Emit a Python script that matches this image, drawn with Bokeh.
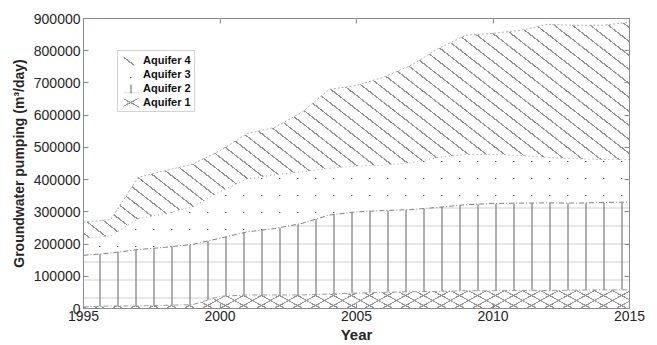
import zlib, struct, base64
from bokeh.plotting import figure
from bokeh.models import (ColumnDataSource, Range1d, LinearAxis, FixedTicker, Legend,
                          LegendItem, ImageURLTexture)
from bokeh.core.properties import value
from bokeh.transform import stack
from bokeh.embed import file_html
from bokeh.resources import INLINE

# ---------------- data ----------------
years = list(range(1995, 2016))
aquifer1 = [5000, 8000, 8000, 10000, 12000, 38000, 42000, 42000, 42000, 45000, 48000,
            50000, 52000, 53000, 55000, 55000, 56000, 56000, 57000, 58000, 58000]
aquifer2 = [160000, 164000, 175000, 180000, 187000, 180000, 196000, 206000, 222000, 245000, 252000,
            254000, 255000, 261000, 267000, 271000, 271000, 272000, 270000, 271000, 272000]
aquifer3 = [53000, 53000, 96000, 104000, 116000, 145000, 164000, 167000, 160000, 145000, 142000,
            141000, 145000, 155000, 156000, 152000, 148000, 141000, 138000, 133000, 132000]
aquifer4 = [50000, 51000, 128000, 134000, 133000, 127000, 141000, 147000, 185000, 245000, 250000,
            273000, 303000, 338000, 370000, 376000, 388000, 413000, 414000, 417000, 426000]
series_names = ["Aquifer 1", "Aquifer 2", "Aquifer 3", "Aquifer 4"]
x_ticks = [1995, 2000, 2005, 2010, 2015]
y_ticks = [0, 100000, 200000, 300000, 400000, 500000, 600000, 700000, 800000, 900000]

source = ColumnDataSource(dict(year=years, a1=aquifer1, a2=aquifer2, a3=aquifer3, a4=aquifer4))
cols = ["a1", "a2", "a3", "a4"]


# ---------------- hatch textures (small PNG tiles) ----------------
def png_url(w, h, pts):
    rows = []
    for y in range(h):
        row = bytearray([0])
        for x in range(w):
            row += bytes(pts.get((x, y), (0, 0, 0, 0)))
        rows.append(bytes(row))

    def chunk(t, d):
        return struct.pack(">I", len(d)) + t + d + struct.pack(">I", zlib.crc32(t + d) & 0xffffffff)

    png = (b"\x89PNG\r\n\x1a\n" + chunk(b"IHDR", struct.pack(">IIBBBBB", w, h, 8, 6, 0, 0, 0))
           + chunk(b"IDAT", zlib.compress(b"".join(rows))) + chunk(b"IEND", b""))
    return "data:image/png;base64," + base64.b64encode(png).decode()


def seg(pts, w, h, x0, y0, x1, y1, c):
    n = int(max(abs(x1 - x0), abs(y1 - y0)) * 4) + 1
    for i in range(n + 1):
        t = i / n
        pts[(int(round(x0 + (x1 - x0) * t)) % w, int(round(y0 + (y1 - y0) * t)) % h)] = c


t4 = {}
seg(t4, 18, 14, 0, 0, 18, 14, (150, 150, 150, 255))
t3 = {(9, 8): (90, 90, 90, 255), (10, 8): (170, 170, 170, 200)}
t1 = {}
seg(t1, 18, 10, 0, 0, 18, 10, (150, 150, 150, 255))
seg(t1, 18, 10, 0, 10, 18, 0, (150, 150, 150, 255))
tex4 = ImageURLTexture(url=png_url(18, 14, t4))
tex3 = ImageURLTexture(url=png_url(18, 17, t3))
tex1 = ImageURLTexture(url=png_url(18, 10, t1))

hatch_styles = [
    dict(hatch_pattern=value("aq1"), hatch_extra={"aq1": tex1}),
    dict(hatch_pattern="horizontal_line", hatch_scale=18, hatch_color="#d0d0d0", hatch_weight=1),
    dict(hatch_pattern=value("aq3"), hatch_extra={"aq3": tex3}),
    dict(hatch_pattern=value("aq4"), hatch_extra={"aq4": tex4}),
]

# ---------------- figure ----------------
FONT = "Liberation Sans"
p = figure(width=657, height=345, output_backend="svg", toolbar_location=None,
           x_range=Range1d(1995, 2015), y_range=Range1d(0, 900000),
           min_border_left=83, min_border_right=28, min_border_top=18, min_border_bottom=10)
p.background_fill_color = "white"
p.border_fill_color = "white"
p.outline_line_color = "#8c8c8c"
p.grid.visible = False

renderers = []
legend_renderers = []
for i, c in enumerate(cols):
    lower = stack(*cols[:i]) if i > 0 else 0
    r = p.varea(x="year", y1=lower, y2=stack(*cols[:i + 1]), source=source,
                fill_color="white", **hatch_styles[i])
    renderers.append(r)
    group = [r]
    if i == 1:
        # darker vertical lines on top of the faint horizontal ones
        r2 = p.varea(x="year", y1=lower, y2=stack(*cols[:i + 1]), source=source,
                     fill_alpha=0, hatch_pattern="vertical_line", hatch_scale=18,
                     hatch_color="#5f5f5f", hatch_weight=1)
        group.append(r2)
    legend_renderers.append(group)

edge_styles = [("#9a9a9a", "5 2 1 2"), ("#808080", "5 2 1 2"), ("#a0a0a0", "1 3"), ("#b0b0b0", "2 2")]
for i, c in enumerate(cols):
    p.line(x="year", y=stack(*cols[:i + 1]), source=source,
           line_color=edge_styles[i][0], line_dash=edge_styles[i][1], line_width=1)

# axes
for ax in (p.xaxis[0], p.yaxis[0]):
    ax.major_tick_in = 5
    ax.major_tick_out = 0
    ax.minor_tick_line_color = None
    ax.axis_line_color = "#8c8c8c"
    ax.major_tick_line_color = "#8c8c8c"
    ax.major_label_text_font = FONT
    ax.major_label_text_font_size = "14px"
    ax.major_label_text_color = "#262626"
    ax.axis_label_text_font = FONT
    ax.axis_label_text_font_style = "bold"
    ax.axis_label_text_color = "#262626"

p.xaxis.ticker = FixedTicker(ticks=x_ticks)
p.yaxis.ticker = FixedTicker(ticks=y_ticks)
p.yaxis.major_label_overrides = {t: str(t) for t in y_ticks}
p.xaxis.axis_label = "Year"
p.yaxis.axis_label = "Groundwater pumping (m\u00b3/day)"
p.xaxis.axis_label_text_font_size = "15px"
p.yaxis.axis_label_text_font_size = "14px"
p.xaxis.major_label_standoff = 2
p.xaxis.axis_label_standoff = 2
p.yaxis.major_label_standoff = 3
p.yaxis.axis_label_standoff = 4

top = LinearAxis(ticker=FixedTicker(ticks=x_ticks), major_label_overrides={t: "" for t in x_ticks},
                 major_tick_in=5, major_tick_out=0, minor_tick_line_color=None,
                 axis_line_color="#8c8c8c", major_tick_line_color="#8c8c8c",
                 major_label_standoff=0)
right = LinearAxis(ticker=FixedTicker(ticks=y_ticks), major_label_overrides={t: "" for t in y_ticks},
                   major_tick_in=5, major_tick_out=0, minor_tick_line_color=None,
                   axis_line_color="#8c8c8c", major_tick_line_color="#8c8c8c",
                   major_label_standoff=0)
p.add_layout(top, "above")
p.add_layout(right, "right")

legend = Legend(items=[LegendItem(label=series_names[i], renderers=legend_renderers[i]) for i in (3, 2, 1, 0)],
                location=(34, 196), orientation="vertical",
                label_text_font=FONT, label_text_font_size="11px", label_text_font_style="bold",
                label_text_color="#111111", label_height=12, label_standoff=2,
                glyph_width=20, glyph_height=11, spacing=2, padding=3, margin=0,
                border_line_color="#a8a8a8", border_line_width=1, background_fill_alpha=1)
p.add_layout(legend, "center")

open("out.html", "w").write(file_html(p, INLINE))
